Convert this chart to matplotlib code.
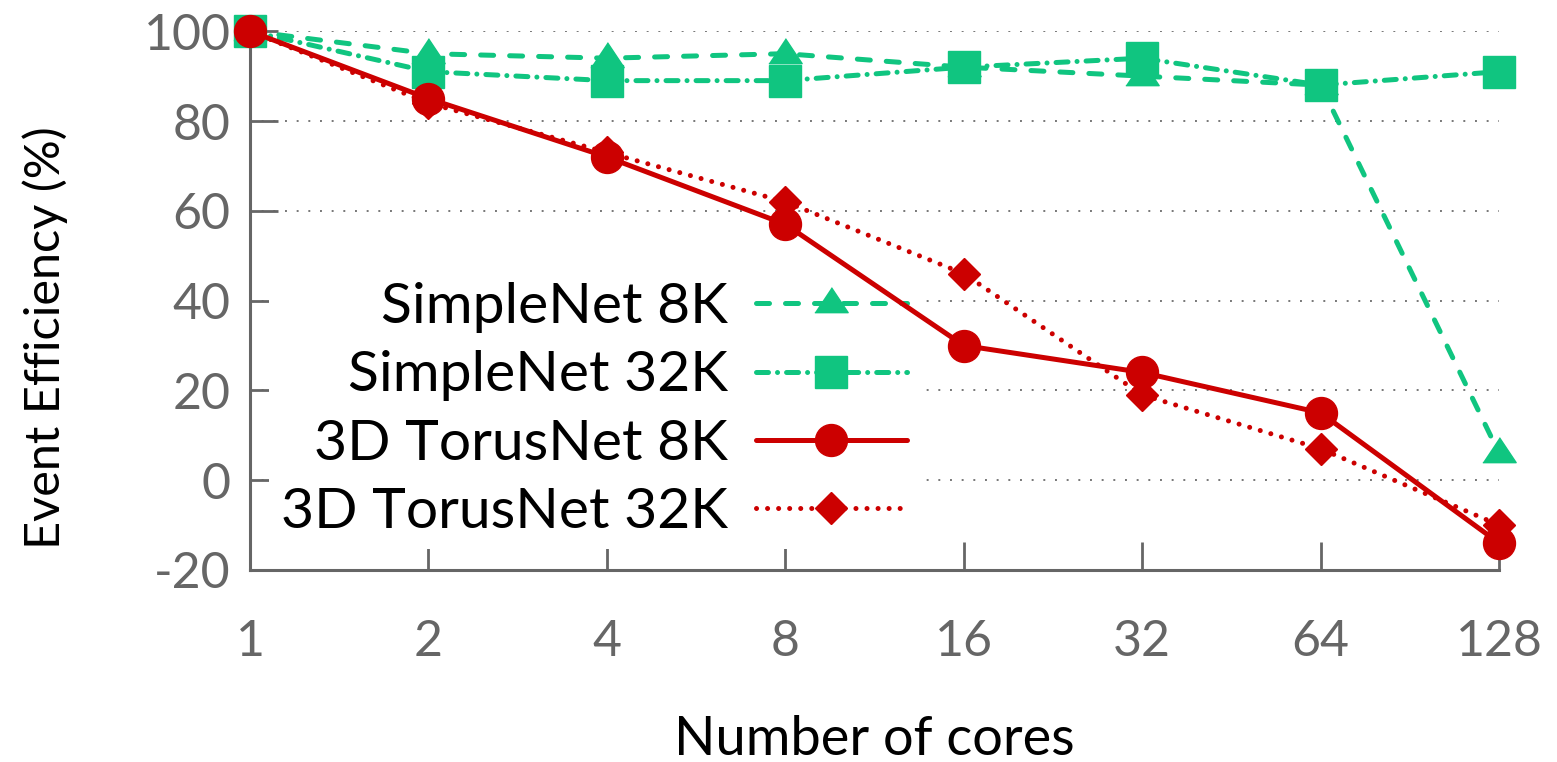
import matplotlib
matplotlib.use("Agg")
import matplotlib.pyplot as plt
import numpy as np

cores = ["1", "2", "4", "8", "16", "32", "64", "128"]
simplenet_8k = [100, 95, 94, 95, 92, 90, 88, 6]
simplenet_32k = [100, 91, 89, 89, 92, 94, 88, 91]
torus_8k = [100, 85, 72, 57, 30, 24, 15, -14]
torus_32k = [100, 84, 73, 62, 46, 19, 7, -10]

GREEN = "#10c580"
RED = "#cc0000"
AXIS_GRAY = "#666666"

plt.rcParams["font.family"] = ["Lato", "DejaVu Sans"]

fig = plt.figure(figsize=(15.57, 7.62), dpi=100)
ax = fig.add_axes([0.1606, 0.252, 0.8022, 0.707])

x = np.arange(len(cores))
lw = 3.6
common = dict(lw=lw, clip_on=False, dash_capstyle="round", solid_capstyle="round",
              markeredgewidth=1)

tri = [(-1, -0.55), (1, -0.55), (0, 0.95)]
l1, = ax.plot(x, simplenet_8k, color=GREEN, ls=(0, (2.6, 3.2)), marker=tri,
              markersize=24, markerfacecolor=GREEN, markeredgecolor=GREEN,
              label="SimpleNet 8K", zorder=3, **common)
l2, = ax.plot(x, simplenet_32k, color=GREEN, ls=(0, (2.4, 1.8, 0.01, 1.8)), marker="s",
              markersize=23, markerfacecolor=GREEN, markeredgecolor=GREEN,
              label="SimpleNet 32K", zorder=3, **common)
l4, = ax.plot(x, torus_32k, color=RED, ls=(0, (0.01, 2.2)), marker="D",
              markersize=16, markerfacecolor=RED, markeredgecolor=RED,
              label="3D TorusNet 32K", zorder=3, **common)
l3, = ax.plot(x, torus_8k, color=RED, ls="-", marker="o",
              markersize=23, markerfacecolor=RED, markeredgecolor=RED,
              label="3D TorusNet 8K", zorder=3, **common)

ax.set_xlim(0, len(cores) - 1)
ax.set_ylim(-20, 100)
ax.set_xticks(x)
ax.set_xticklabels(cores)
ax.set_yticks([-20, 0, 20, 40, 60, 80, 100])
ax.set_yticklabels(["-20", "0", "20", "40", "60", "80", "100"])

for s in ["top", "right"]:
    ax.spines[s].set_visible(False)
for s in ["left", "bottom"]:
    ax.spines[s].set_color(AXIS_GRAY)
    ax.spines[s].set_linewidth(2.2)
    ax.spines[s].set_zorder(2.6)

ax.tick_params(axis="both", direction="in", length=20, width=2, color=AXIS_GRAY,
               labelcolor=AXIS_GRAY, labelsize=36)
ax.tick_params(axis="x", pad=35)
ax.tick_params(axis="y", pad=14)

ax.yaxis.grid(True, ls=(0, (1, 5)), color="#777777", lw=1.4)
ax.set_axisbelow(True)

ax.set_xlabel("Number of cores", fontsize=39, labelpad=36)
ax.set_ylabel("Event Efficiency (%)", fontsize=35)
ax.yaxis.set_label_coords(-0.146, 0.432)

leg = ax.legend(handles=[l1, l2, l3, l4], loc="upper right",
                bbox_to_anchor=(0.535, 0.555), markerfirst=False, frameon=True,
                fontsize=41, handlelength=2.65, handletextpad=0.5,
                labelspacing=0.3, borderpad=0.2, borderaxespad=0.0)
leg.get_frame().set_facecolor("white")
leg.get_frame().set_edgecolor("none")
leg.get_frame().set_alpha(1.0)
leg.set_zorder(2.1)
col = leg._legend_box._children[-1]._children[0]
col.align = "right"

fig.savefig("out.png", dpi=100, facecolor="white")
